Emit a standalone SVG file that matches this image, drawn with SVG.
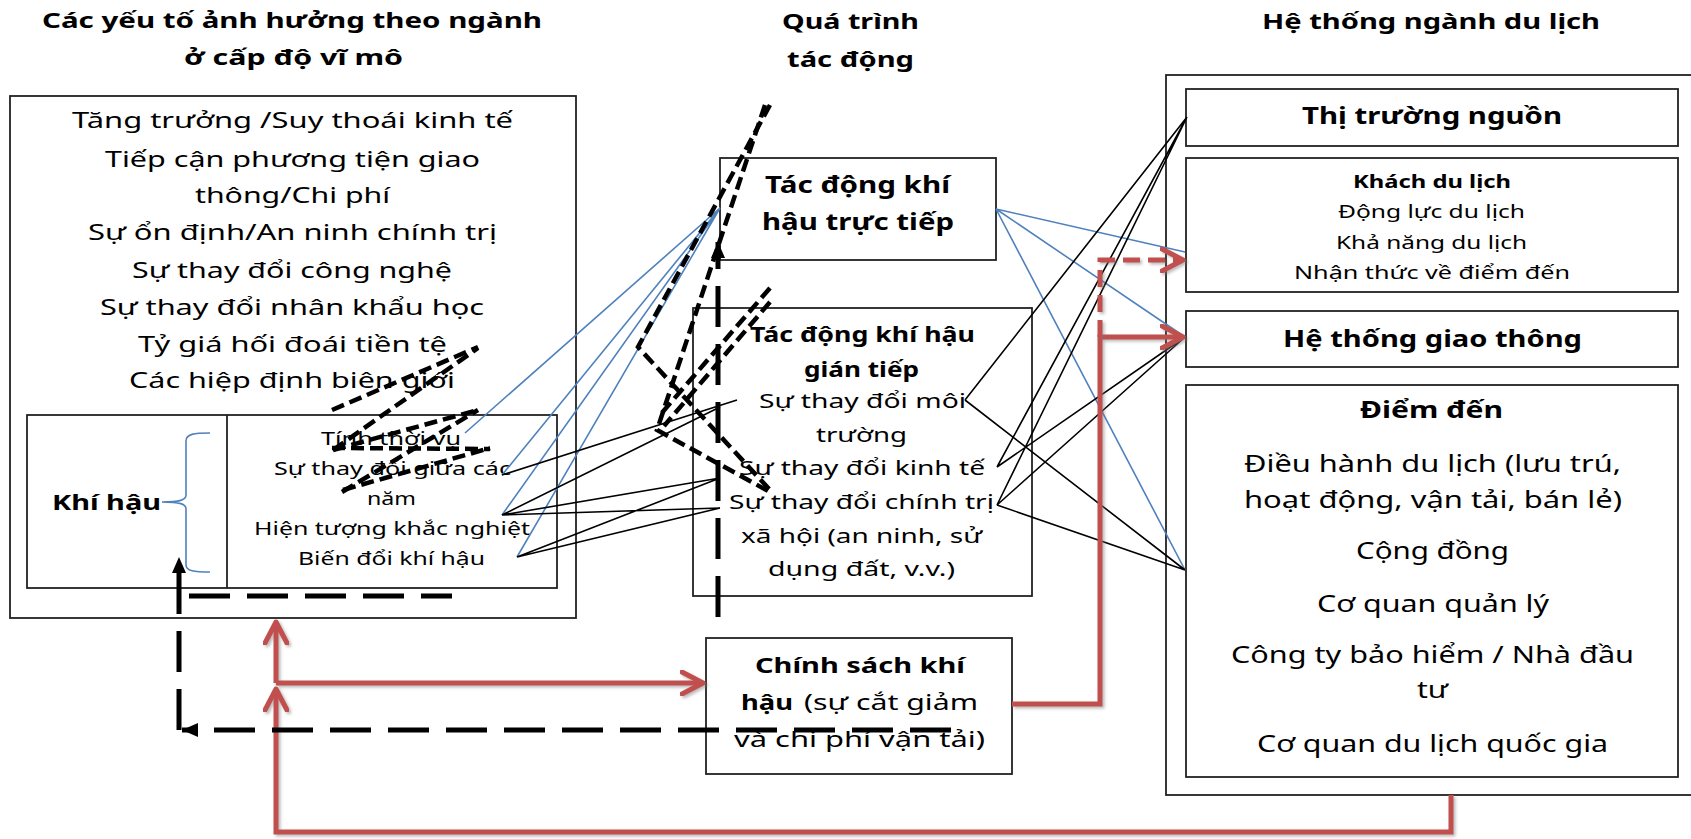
<svg xmlns="http://www.w3.org/2000/svg" width="1691" height="839" viewBox="0 0 1691 839">
<style>
text{font-family:"Noto Sans","Open Sans","DejaVu Sans",sans-serif;fill:#000}
.b{font-weight:bold}
.box{fill:none;stroke:#222;stroke-width:1.8}
.blue{stroke:#4F81BD;stroke-width:1.6;fill:none}
.blk{stroke:#000;stroke-width:1.6;fill:none}
.red{stroke:#C0504D;stroke-width:5;fill:none;filter:url(#sh)}
.redd{stroke:#C0504D;stroke-width:5;fill:none;stroke-dasharray:17 8;filter:url(#sh)}
.ld{stroke:#000;stroke-width:5;fill:none;stroke-dasharray:41 17}
.sd{stroke:#000;stroke-width:4.5;fill:none;stroke-dasharray:13 6}
</style>
<defs>
<filter id="sh" filterUnits="userSpaceOnUse" x="0" y="0" width="1691" height="839"><feDropShadow dx="2" dy="2" stdDeviation="1.5" flood-color="#777" flood-opacity="0.5"/></filter>
<marker id="rc" viewBox="0 0 26 26" refX="23" refY="13" markerWidth="26" markerHeight="26" markerUnits="userSpaceOnUse" orient="auto"><path d="M2,2 L23,13 L2,24" fill="none" stroke="#C0504D" stroke-width="5" stroke-linecap="round" stroke-linejoin="round"/></marker>
<marker id="bt" viewBox="0 0 16 14" refX="16" refY="7" markerWidth="16" markerHeight="14" markerUnits="userSpaceOnUse" orient="auto"><path d="M0,0 L16,7 L0,14 z" fill="#000"/></marker>
</defs>
<rect width="1691" height="839" fill="#fff"/>

<g id="titles" class="b" font-size="22">
<text x="42" y="28" textLength="500" lengthAdjust="spacingAndGlyphs">Các yếu tố ảnh hưởng theo ngành</text>
<text x="184" y="65" textLength="219" lengthAdjust="spacingAndGlyphs">ở cấp độ vĩ mô</text>
<text x="782" y="29" textLength="137" lengthAdjust="spacingAndGlyphs">Quá trình</text>
<text x="787" y="67" textLength="127" lengthAdjust="spacingAndGlyphs">tác động</text>
<text x="1262" y="29" textLength="338" lengthAdjust="spacingAndGlyphs">Hệ thống ngành du lịch</text>
</g>

<g id="macro-factors">
<rect class="box" x="10" y="96" width="566" height="522"/>
<g font-size="21">
<text x="72" y="128" textLength="441" lengthAdjust="spacingAndGlyphs">Tăng trưởng /Suy thoái kinh tế</text>
<text x="105" y="167" textLength="375" lengthAdjust="spacingAndGlyphs">Tiếp cận phương tiện giao</text>
<text x="195" y="203" textLength="195" lengthAdjust="spacingAndGlyphs">thông/Chi phí</text>
<text x="88" y="240" textLength="409" lengthAdjust="spacingAndGlyphs">Sự ổn định/An ninh chính trị</text>
<text x="132" y="278" textLength="320" lengthAdjust="spacingAndGlyphs">Sự thay đổi công nghệ</text>
<text x="100" y="315" textLength="384" lengthAdjust="spacingAndGlyphs">Sự thay đổi nhân khẩu học</text>
<text x="138" y="352" textLength="309" lengthAdjust="spacingAndGlyphs">Tỷ giá hối đoái tiền tệ</text>
<text x="129" y="388" textLength="326" lengthAdjust="spacingAndGlyphs">Các hiệp định biên giới</text>
</g>
</g>

<g id="climate">
<rect class="box" x="27" y="415" width="530" height="173"/>
<line class="box" x1="227" y1="415" x2="227" y2="588"/>
<text class="b" font-size="22" x="52" y="510" textLength="109" lengthAdjust="spacingAndGlyphs">Khí hậu</text>
<path class="blue" d="M210,433 C194,433 186,434 186,441 L186,495 C186,500 180,502 162,502 C180,502 186,504 186,509 L186,565 C186,571 194,572 210,572"/>
<g font-size="18">
<text x="321" y="445" textLength="140" lengthAdjust="spacingAndGlyphs">Tính thời vụ</text>
<text x="274" y="475" textLength="237" lengthAdjust="spacingAndGlyphs">Sự thay đổi giữa các</text>
<text x="367" y="505" textLength="49" lengthAdjust="spacingAndGlyphs">năm</text>
<text x="254" y="535" textLength="276" lengthAdjust="spacingAndGlyphs">Hiện tượng khắc nghiệt</text>
<text x="298" y="565" textLength="187" lengthAdjust="spacingAndGlyphs">Biến đổi khí hậu</text>
</g>
</g>

<g id="direct-impact">
<rect class="box" x="720" y="158" width="276" height="102"/>
<g class="b" font-size="24">
<text x="765" y="193" textLength="185" lengthAdjust="spacingAndGlyphs">Tác động khí</text>
<text x="762" y="230" textLength="192" lengthAdjust="spacingAndGlyphs">hậu trực tiếp</text>
</g>
</g>

<g id="indirect-impact">
<rect class="box" x="693" y="308" width="339" height="288"/>
<g class="b" font-size="21">
<text x="750" y="342" textLength="225" lengthAdjust="spacingAndGlyphs">Tác động khí hậu</text>
<text x="804" y="377" textLength="115" lengthAdjust="spacingAndGlyphs">gián tiếp</text>
</g>
<g font-size="20">
<text x="759" y="408" textLength="207" lengthAdjust="spacingAndGlyphs">Sự thay đổi môi</text>
<text x="816" y="442" textLength="91" lengthAdjust="spacingAndGlyphs">trường</text>
<text x="739" y="475" textLength="246" lengthAdjust="spacingAndGlyphs">Sự thay đổi kinh tế</text>
<text x="729" y="509" textLength="265" lengthAdjust="spacingAndGlyphs">Sự thay đổi chính trị</text>
<text x="741" y="543" textLength="241" lengthAdjust="spacingAndGlyphs">xã hội (an ninh, sử</text>
<text x="768" y="576" textLength="187" lengthAdjust="spacingAndGlyphs">dụng đất, v.v.)</text>
</g>
</g>

<g id="climate-policy">
<rect class="box" x="706" y="638" width="306" height="136"/>
<g font-size="22">
<text class="b" x="755" y="673" textLength="210" lengthAdjust="spacingAndGlyphs">Chính sách khí</text>
<text class="b" x="741" y="710" textLength="52" lengthAdjust="spacingAndGlyphs">hậu</text>
<text x="804" y="710" textLength="174" lengthAdjust="spacingAndGlyphs">(sự cắt giảm</text>
<text x="734" y="747" textLength="251" lengthAdjust="spacingAndGlyphs">và chi phí vận tải)</text>
</g>
</g>

<g id="tourism-system">
<rect class="box" x="1166" y="75" width="540" height="720"/>
<g id="source-market">
<rect class="box" x="1186" y="89" width="492" height="57"/>
<text class="b" font-size="24" x="1302" y="124" textLength="260" lengthAdjust="spacingAndGlyphs">Thị trường nguồn</text>
</g>
<g id="tourists">
<rect class="box" x="1186" y="158" width="492" height="134"/>
<text class="b" font-size="18" x="1353" y="188" textLength="158" lengthAdjust="spacingAndGlyphs">Khách du lịch</text>
<g font-size="18">
<text x="1338" y="218" textLength="187" lengthAdjust="spacingAndGlyphs">Động lực du lịch</text>
<text x="1336" y="249" textLength="191" lengthAdjust="spacingAndGlyphs">Khả năng du lịch</text>
<text x="1294" y="279" textLength="276" lengthAdjust="spacingAndGlyphs">Nhận thức về điểm đến</text>
</g>
</g>
<g id="transport">
<rect class="box" x="1186" y="311" width="492" height="56"/>
<text class="b" font-size="24" x="1283" y="347" textLength="299" lengthAdjust="spacingAndGlyphs">Hệ thống giao thông</text>
</g>
<g id="destination">
<rect class="box" x="1186" y="385" width="492" height="392"/>
<text class="b" font-size="24" x="1360" y="418" textLength="143" lengthAdjust="spacingAndGlyphs">Điểm đến</text>
<g font-size="23">
<text x="1244" y="472" textLength="377" lengthAdjust="spacingAndGlyphs">Điều hành du lịch (lưu trú,</text>
<text x="1244" y="508" textLength="378" lengthAdjust="spacingAndGlyphs">hoạt động, vận tải, bán lẻ)</text>
<text x="1356" y="559" textLength="153" lengthAdjust="spacingAndGlyphs">Cộng đồng</text>
<text x="1317" y="612" textLength="232" lengthAdjust="spacingAndGlyphs">Cơ quan quản lý</text>
<text x="1231" y="663" textLength="403" lengthAdjust="spacingAndGlyphs">Công ty bảo hiểm / Nhà đầu</text>
<text x="1417" y="698" textLength="31" lengthAdjust="spacingAndGlyphs">tư</text>
<text x="1257" y="752" textLength="351" lengthAdjust="spacingAndGlyphs">Cơ quan du lịch quốc gia</text>
</g>
</g>
</g>

<g id="connectors">
<g class="blue">
<path d="M720,208 L465,433 M720,208 L502,475 M720,208 L502,515 M720,208 L517,557"/>
<path d="M996,209 L1185,252 M996,209 L1185,337 M996,209 L1185,570"/>
</g>
<g class="blk">
<path d="M502,475 L737,400 M502,515 L720,407 M502,515 L720,478 M502,515 L720,508 M517,557 L720,478 M517,557 L720,508"/>
<path d="M965,400 L1187,117 M965,400 L1185,570 M997,467 L1187,117 M997,467 L1185,337 M997,505 L1187,117 M997,505 L1185,337 M997,505 L1185,570"/>
</g>
<g>
<path class="red" d="M1451,795 L1451,832 L276,832 L276,689" marker-end="url(#rc)"/>
<path class="red" d="M276,683 L276,622" marker-end="url(#rc)"/>
<path class="red" d="M276,683 L703,683" marker-end="url(#rc)"/>
<path class="red" d="M1012,704 L1100,704 L1100,337 L1183,337" marker-end="url(#rc)"/>
<path class="redd" d="M1100,337 L1100,260 L1183,260" marker-end="url(#rc)"/>
</g>
<g>
<path class="ld" d="M718,617 L718,242" marker-end="url(#bt)"/>
<path class="ld" d="M951,730 L182,730" marker-end="url(#bt)"/>
<path class="ld" d="M179,730 L179,557" marker-end="url(#bt)"/>
<line class="ld" x1="189" y1="596" x2="452" y2="596"/>
</g>
<g class="sd">
<path d="M770,105 L638,347 L770,490"/>
<path d="M765,105 L657,430 L770,492"/>
<path d="M770,288 L660,415"/>
<path d="M770,302 L664,426"/>
<path d="M332,410 L478,347"/>
<path d="M333,450 L478,348"/>
<path d="M332,448 L490,449"/>
<path d="M342,492 L478,410"/>
<path d="M343,490 L490,448"/>
<path d="M333,450 L478,410"/>
</g>
</g>
</svg>
